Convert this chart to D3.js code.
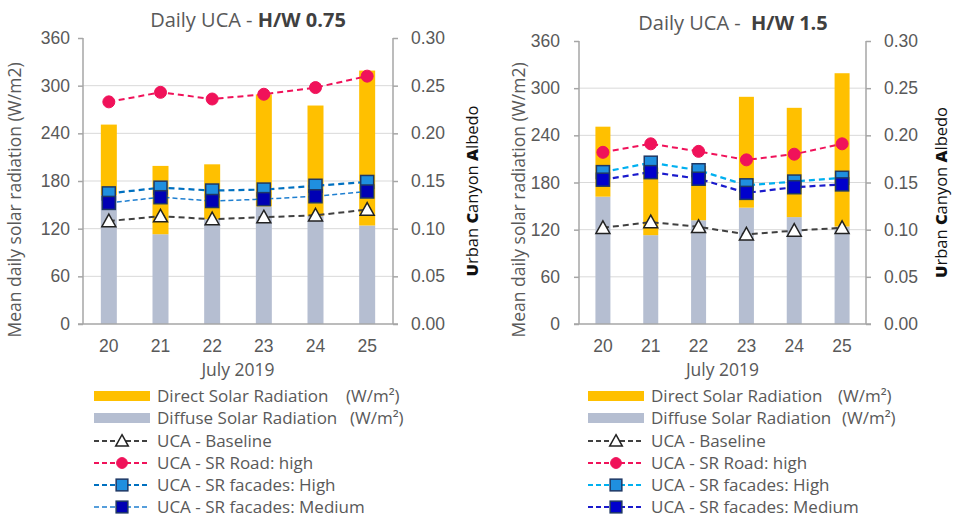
<!DOCTYPE html>
<html>
<head>
<meta charset="utf-8">
<script src="https://cdn.jsdelivr.net/npm/d3@7"></script>
<style>
  html, body { margin: 0; padding: 0; background: #fff; }
  svg { display: block; font-family: "Open Sans", "Noto Sans", sans-serif; }
</style>
</head>
<body>
<svg id="chart" width="956" height="517"></svg>
<script>
// July 2019 days
const days = ["20", "21", "22", "23", "24", "25"];
const xAxisTitle = "July 2019";

// Mean daily solar radiation (W/m2), same weather for both canyons
const diffuseRad = [162, 113, 132, 148, 136, 124];
const directRad  = [89, 86, 69, 141, 139, 195];

// Left-axis and right-axis ticks
const radTicks = [0, 60, 120, 180, 240, 300, 360];
const ucaTicks = [0, 0.05, 0.10, 0.15, 0.20, 0.25, 0.30];

// Urban canyon albedo, H/W 0.75
const uca075Baseline = [0.108, 0.113, 0.110, 0.112, 0.114, 0.120];
const uca075Road     = [0.233, 0.243, 0.236, 0.241, 0.248, 0.260];
const uca075FacHigh  = [0.137, 0.143, 0.140, 0.141, 0.145, 0.149];
const uca075FacMed   = [0.127, 0.133, 0.129, 0.131, 0.134, 0.139];

// Urban canyon albedo, H/W 1.5
const uca15Baseline = [0.102, 0.108, 0.103, 0.095, 0.099, 0.102];
const uca15Road     = [0.182, 0.191, 0.183, 0.174, 0.180, 0.191];
const uca15FacHigh  = [0.161, 0.171, 0.163, 0.147, 0.151, 0.155];
const uca15FacMed   = [0.153, 0.161, 0.154, 0.139, 0.145, 0.148];

const legendBars = ["Direct Solar Radiation", "Diffuse Solar Radiation"];
const legendUnit = "(W/m²)";
const legendLines = ["UCA - Baseline", "UCA - SR Road: high", "UCA - SR facades: High", "UCA - SR facades: Medium"];

const svg = d3.select("#chart");
const TICK_GREY = "#595959";
const AXIS_GREY = "#a6a6a6";

function panel(cfg) {
  const g = svg.append("g");
  const x = d3.scaleBand().domain(days).range([cfg.left, cfg.right]).paddingInner(cfg.barPad).paddingOuter(cfg.barPad / 2);
  const xc = d => x(d) + x.bandwidth() / 2;
  const yL = d3.scaleLinear().domain([0, 360]).range([cfg.bottom, cfg.top]);
  const yR = d3.scaleLinear().domain([0, 0.30]).range([cfg.bottom, cfg.top]);

  // gridlines
  g.append("g").selectAll("line").data(radTicks.filter(t => t > 0 && t < 360)).join("line")
    .attr("x1", cfg.left).attr("x2", cfg.right)
    .attr("y1", d => yL(d)).attr("y2", d => yL(d))
    .attr("stroke", "#d9d9d9").attr("stroke-width", 1);

  // stacked bars
  const barW = cfg.barW;
  g.append("g").selectAll("rect").data(days).join("rect")
    .attr("x", d => xc(d) - barW / 2).attr("width", barW)
    .attr("y", (d, i) => yL(diffuseRad[i])).attr("height", (d, i) => yL(0) - yL(diffuseRad[i]))
    .attr("fill", "#b5bed1");
  g.append("g").selectAll("rect").data(days).join("rect")
    .attr("x", d => xc(d) - barW / 2).attr("width", barW)
    .attr("y", (d, i) => yL(diffuseRad[i] + directRad[i]))
    .attr("height", (d, i) => yL(diffuseRad[i]) - yL(diffuseRad[i] + directRad[i]))
    .attr("fill", "#ffc000");

  // axes
  const axL = d3.axisLeft(yL).tickValues(radTicks).tickSize(5).tickPadding(6).tickFormat(d3.format("d"));
  const axR = d3.axisRight(yR).tickValues(ucaTicks).tickSize(5).tickPadding(13).tickFormat(d3.format(".2f"));
  const gl = g.append("g").attr("transform", `translate(${cfg.left},0)`).call(axL);
  const gr = g.append("g").attr("transform", `translate(${cfg.right},0)`).call(axR);
  [gl, gr].forEach(a => {
    a.select(".domain").remove();
    a.selectAll(".tick line").attr("stroke", AXIS_GREY).attr("stroke-width", 1.5);
    a.selectAll(".tick text").attr("fill", TICK_GREY).attr("font-size", 17.5);
  });
  gl.selectAll(".tick text").attr("dx", cfg.leftLabelShift);
  g.append("line").attr("x1", cfg.left).attr("x2", cfg.left).attr("y1", cfg.top).attr("y2", cfg.bottom)
    .attr("stroke", AXIS_GREY).attr("stroke-width", 1.5);
  g.append("line").attr("x1", cfg.right).attr("x2", cfg.right).attr("y1", cfg.top).attr("y2", cfg.bottom)
    .attr("stroke", AXIS_GREY).attr("stroke-width", 1.5);

  const axB = d3.axisBottom(x).tickSize(0).tickPadding(16);
  const gb = g.append("g").attr("transform", `translate(0,${cfg.bottom})`).call(axB);
  gb.select(".domain").remove();
  gb.selectAll(".tick text").attr("fill", TICK_GREY).attr("font-size", 17.5);
  g.append("line").attr("x1", cfg.left - 5).attr("x2", cfg.right + 5).attr("y1", cfg.bottom).attr("y2", cfg.bottom)
    .attr("stroke", AXIS_GREY).attr("stroke-width", 1.5);

  g.append("text").attr("x", (cfg.left + cfg.right) / 2).attr("y", cfg.bottom + 52)
    .attr("text-anchor", "middle").attr("fill", TICK_GREY).attr("font-size", 17.5).text(xAxisTitle);

  // axis titles
  g.append("text").attr("transform", `translate(${cfg.yTitleX},${cfg.yTitleY}) rotate(-90)`)
    .attr("text-anchor", "middle").attr("fill", TICK_GREY).attr("font-size", 17.5)
    .text("Mean daily solar radiation (W/m2)");
  const rt = g.append("text").attr("transform", `translate(${cfg.rTitleX},${(cfg.top + cfg.bottom) / 2 + 10}) rotate(-90)`)
    .attr("text-anchor", "middle").attr("fill", "#111").attr("font-size", 16.5);
  [["U", 800], ["rban ", 500], ["C", 800], ["anyon ", 500], ["A", 800], ["lbedo", 500]].forEach(([s, w]) =>
    rt.append("tspan").attr("font-weight", w).text(s));

  // chart title
  const tt = g.append("text").attr("x", cfg.titleX).attr("y", cfg.titleY).attr("text-anchor", "middle")
    .attr("font-size", 20).attr("fill", TICK_GREY).style("white-space", "pre");
  tt.append("tspan").text(cfg.titlePre);
  tt.append("tspan").attr("font-weight", 700).attr("fill", "#404040").text(cfg.titleBold);

  // UCA lines
  const line = d3.line().x((d, i) => xc(days[i])).y(d => yR(d));
  cfg.series.forEach(s => {
    g.append("path").datum(s.values).attr("d", line).attr("fill", "none")
      .attr("stroke", s.lineColor).attr("stroke-width", s.lineWidth).attr("stroke-dasharray", s.dash);
    const pts = g.append("g").selectAll("g").data(s.values).join("g")
      .attr("transform", (d, i) => `translate(${xc(days[i])},${yR(d)})`);
    drawMarker(pts, s);
  });

  // legend
  const lg = g.append("g");
  const rowY = [396, 418, 441, 463, 485, 507];
  const sx0 = cfg.legendX, sx1 = cfg.legendX + 56, tx = cfg.legendX + 63;
  [["#ffc000", legendBars[0], cfg.unitX0], ["#b5bed1", legendBars[1], cfg.unitX1]].forEach(([c, label, ux], i) => {
    lg.append("rect").attr("x", sx0).attr("y", rowY[i] - 5).attr("width", sx1 - sx0).attr("height", 10).attr("fill", c);
    lg.append("text").attr("x", tx).attr("y", rowY[i] + 6).attr("font-size", 17).attr("fill", TICK_GREY).text(label);
    lg.append("text").attr("x", ux).attr("y", rowY[i] + 6).attr("font-size", 17).attr("fill", TICK_GREY).text(legendUnit);
  });
  cfg.series.forEach((s, i) => {
    const y = rowY[i + 2];
    lg.append("line").attr("x1", sx0).attr("x2", sx1).attr("y1", y).attr("y2", y)
      .attr("stroke", s.lineColor).attr("stroke-width", s.lineWidth).attr("stroke-dasharray", "5,3");
    const m = lg.append("g").attr("transform", `translate(${(sx0 + sx1) / 2},${y})`);
    drawMarker(m, Object.assign({}, s, { size: s.size * 0.9 }));
    lg.append("text").attr("x", tx).attr("y", y + 6).attr("font-size", 17).attr("fill", TICK_GREY).text(legendLines[i]);
  });
}

function drawMarker(sel, s) {
  const r = s.size / 2;
  if (s.shape === "circle") {
    sel.append("circle").attr("r", r).attr("fill", s.fill).attr("stroke", s.stroke).attr("stroke-width", 1);
  } else if (s.shape === "square") {
    sel.append("rect").attr("x", -r).attr("y", -r).attr("width", 2 * r).attr("height", 2 * r)
      .attr("fill", s.fill).attr("stroke", s.stroke).attr("stroke-width", 1.5);
  } else {
    sel.append("path").attr("d", `M0,${-r}L${r},${r * 0.8}L${-r},${r * 0.8}Z`)
      .attr("fill", s.fill).attr("stroke", s.stroke).attr("stroke-width", 1.5);
  }
}

panel({
  left: 83, right: 393, top: 38, bottom: 324, barPad: 0.69, barW: 16, leftLabelShift: -2,
  yTitleX: 21, yTitleY: 200, rTitleX: 478,
  titleX: 248, titleY: 27, titlePre: "Daily UCA - ", titleBold: "H/W 0.75",
  legendX: 94, unitX0: 346, unitX1: 350,
  series: [
    { values: uca075Baseline, shape: "triangle", size: 14, fill: "#fff", stroke: "#222", lineColor: "#404040", lineWidth: 2, dash: "6,4" },
    { values: uca075Road, shape: "circle", size: 12, fill: "#f0125a", stroke: "#f0125a", lineColor: "#f0125a", lineWidth: 2, dash: "6,4" },
    { values: uca075FacHigh, shape: "square", size: 13, fill: "#1f8fdf", stroke: "#1f3864", lineColor: "#0070c0", lineWidth: 2.2, dash: "6,4" },
    { values: uca075FacMed, shape: "square", size: 13, fill: "#0000b4", stroke: "#1f3864", lineColor: "#1f7fd0", lineWidth: 1.5, dash: "5,3" }
  ]
});

panel({
  left: 579, right: 866, top: 41, bottom: 324, barPad: 0.69, barW: 15, leftLabelShift: -8,
  yTitleX: 525, yTitleY: 200, rTitleX: 947,
  titleX: 733, titleY: 30, titlePre: "Daily UCA -  ", titleBold: "H/W 1.5",
  legendX: 588, unitX0: 838, unitX1: 842,
  series: [
    { values: uca15Baseline, shape: "triangle", size: 14, fill: "#fff", stroke: "#222", lineColor: "#404040", lineWidth: 2, dash: "6,4" },
    { values: uca15Road, shape: "circle", size: 12, fill: "#f0125a", stroke: "#f0125a", lineColor: "#f0125a", lineWidth: 2, dash: "6,4" },
    { values: uca15FacHigh, shape: "square", size: 13, fill: "#1f8fdf", stroke: "#1f3864", lineColor: "#00b0f0", lineWidth: 2.2, dash: "6,4" },
    { values: uca15FacMed, shape: "square", size: 13, fill: "#0000cc", stroke: "#1f3864", lineColor: "#1a1acc", lineWidth: 2.2, dash: "6,4" }
  ]
});
</script>
</body>
</html>
